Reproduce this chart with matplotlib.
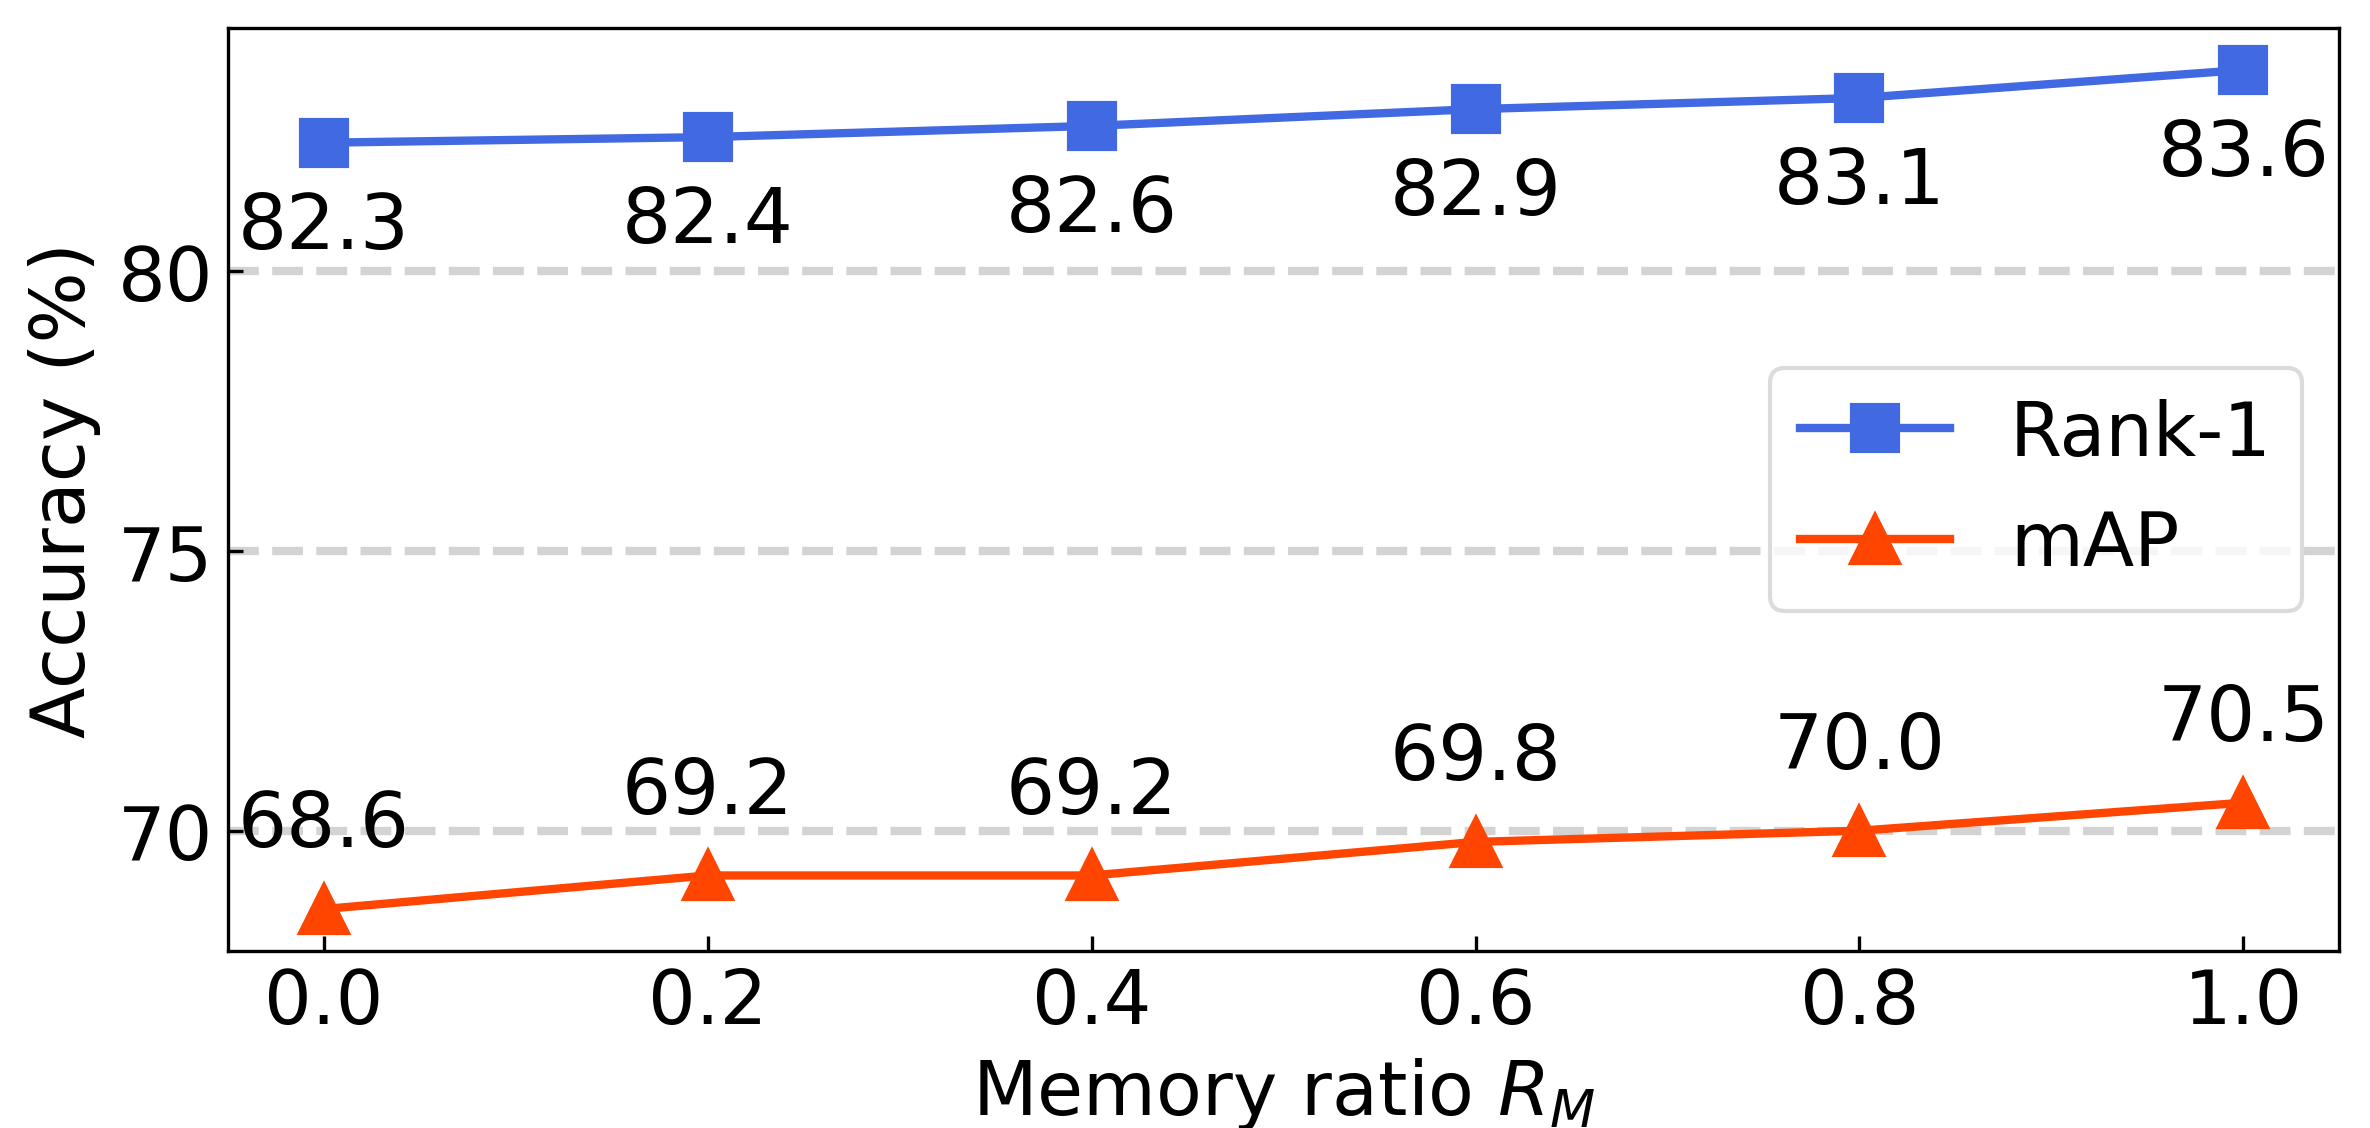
import matplotlib
matplotlib.use("Agg")
import matplotlib.pyplot as plt

ratios = [0.0, 0.2, 0.4, 0.6, 0.8, 1.0]
rank1 = [82.3, 82.4, 82.6, 82.9, 83.1, 83.6]
mAP = [68.6, 69.2, 69.2, 69.8, 70.0, 70.5]
yticks = [70, 75, 80]

fig = plt.figure(figsize=(7.9, 3.7633), dpi=300)
ax = fig.add_axes([0.0962, 0.1568, 0.987 - 0.0962, 0.9743 - 0.1568])

ax.plot(ratios, rank1, color='royalblue', marker='s', markersize=11, linewidth=2, label='Rank-1')
ax.plot(ratios, mAP, color='orangered', marker='^', markersize=11.5, linewidth=2, label='mAP')

for x, y in zip(ratios, rank1):
    ax.text(x, y - 1.5, f"{y:.1f}", ha='center', va='center', fontsize=18.5)
for x, y in zip(ratios, mAP):
    ax.text(x, y + 1.5, f"{y:.1f}", ha='center', va='center', fontsize=18.5)

ax.set_yticks(yticks)
ax.yaxis.grid(True, linestyle='--', color='lightgray', linewidth=2)
ax.set_axisbelow(True)
ax.tick_params(direction='in', labelsize=18)
ax.set_xlabel(r'Memory ratio $R_M$', fontsize=18)
ax.set_ylabel('Accuracy (%)', fontsize=18)
ax.legend(loc='center right', fontsize=18, edgecolor='lightgray')

fig.savefig('out.png', dpi=300)
